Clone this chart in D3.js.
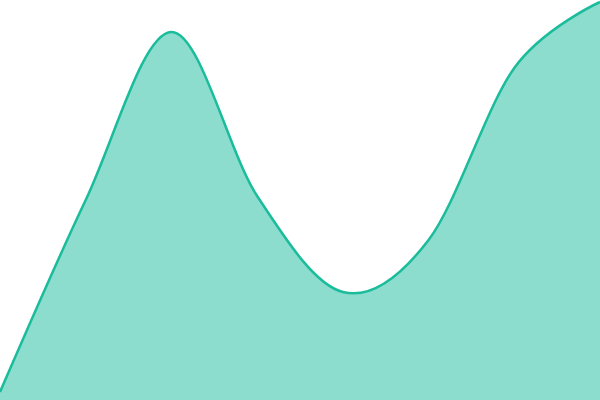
<!DOCTYPE html>
<html>
<head>
<meta charset="utf-8">
<script src="https://cdn.jsdelivr.net/npm/d3@7"></script>
<style>
  html, body { margin: 0; padding: 0; background: #fff; }
  svg { display: block; }
</style>
</head>
<body>
<div id="chart"></div>
<script>
// Evenly spaced samples (0-100 scale)
const steps = [0, 1, 2, 3, 4, 5, 6, 7];
const values = [2, 50, 92, 51, 27, 40, 83, 99.5];

const width = 600;
const height = 400;

const svg = d3.select('#chart')
    .append('svg')
    .attr('width', width)
    .attr('height', height);

const x = d3.scaleLinear()
    .domain(d3.extent(steps))
    .range([0, width]);

const y = d3.scaleLinear()
    .domain([0, 100])
    .range([height, 0]);

const data = steps.map((s, i) => ({ step: s, value: values[i] }));

const curve = d3.curveCardinal;

// Filled area under the curve
const area = d3.area()
    .x(d => x(d.step))
    .y0(y(0))
    .y1(d => y(d.value))
    .curve(curve);

svg.append('path')
    .datum(data)
    .attr('d', area)
    .attr('fill', '#1abc9c')
    .attr('fill-opacity', 0.5);

// Outline on top
const line = d3.line()
    .x(d => x(d.step))
    .y(d => y(d.value))
    .curve(curve);

svg.append('path')
    .datum(data)
    .attr('d', line)
    .attr('fill', 'none')
    .attr('stroke', '#1abc9c')
    .attr('stroke-width', 2.5);
</script>
</body>
</html>
